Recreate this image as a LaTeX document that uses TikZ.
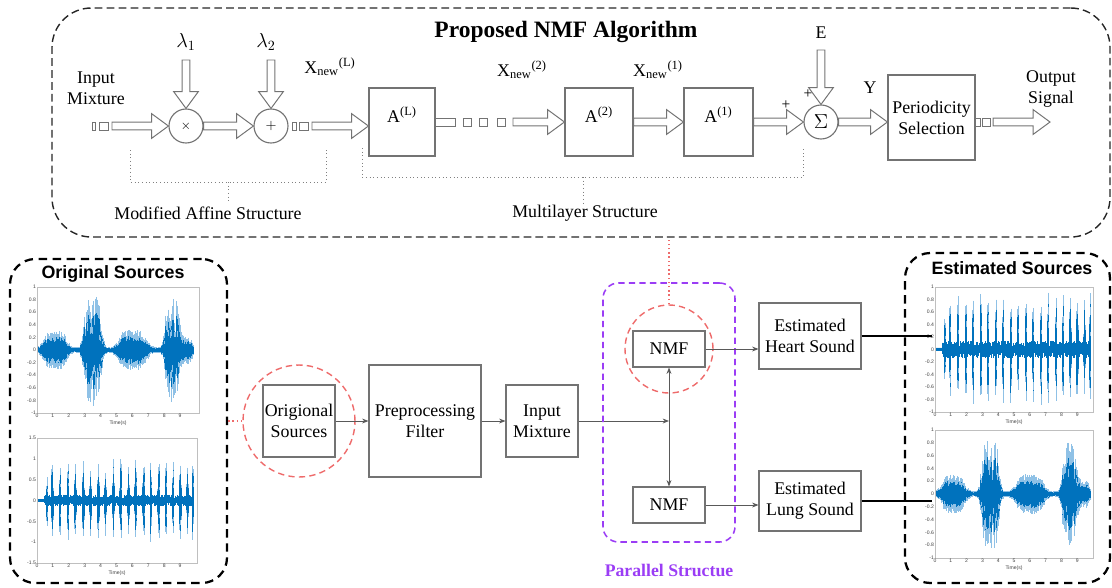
\documentclass[tikz,border=0pt]{standalone}
\usepackage{fontspec}
\setmainfont{Liberation Serif}
\setsansfont{Liberation Sans}
\usetikzlibrary{arrows.meta,calc}

\def\pxu{0.025cm}
\def\shaftw{2.8pt}
\def\headw{8.8pt}
\def\headl{12pt}

\definecolor{wavedark}{HTML}{0072BD}
\definecolor{wavelight}{HTML}{8FC1E6}
\definecolor{ringred}{HTML}{EE6B6B}
\definecolor{parpurple}{HTML}{9B3DF5}

\newcommand{\dfont}{\fontsize{12.7}{15}\selectfont}

\tikzset{
  blk/.style={draw=black!55, line width=0.8pt, inner sep=0pt, align=center, font=\dfont},
  raised/.style={text height=9.5pt, text depth=9.5pt},
  op/.style={circle, draw=black!55, line width=0.8pt, inner sep=0pt, minimum size=34*\pxu},
  txt/.style={align=center, font=\dfont, inner sep=1pt},
  plus/.style={font=\fontsize{11}{11}\selectfont, inner sep=0pt},
  hollowarr/.style={draw=black!55, line width=0.7pt, fill=white, line join=miter},
  bracket/.style={draw=black!50, line width=0.6pt, dotted},
  topframe/.style={draw=black!85, line width=1pt, dash pattern=on 5.5pt off 3pt, rounded corners=28pt, inner sep=0pt},
  srcframe/.style={draw=black, line width=1.6pt, dash pattern=on 6pt off 4pt, rounded corners=18pt, inner sep=0pt},
  parframe/.style={draw=parpurple, line width=1.1pt, dash pattern=on 4.5pt off 3pt, rounded corners=11pt, inner sep=0pt},
  ring/.style={circle, draw=ringred, line width=1pt, dash pattern=on 4.5pt off 3pt, inner sep=0pt},
  reddot/.style={draw=ringred, line width=1pt, dotted},
  flow/.style={draw=black!65, line width=0.6pt, -{Stealth[length=4.5pt,width=3.5pt]}},
  feed/.style={draw=black, line width=1.4pt},
  axisbox/.style={draw=black!25, line width=0.4pt},
  tick/.style={font=\fontsize{3.6}{4}\selectfont\sffamily, inner sep=0.6pt, text=black!75},
  head/.style={font=\fontsize{12.7}{15}\selectfont\sffamily\bfseries},
  title/.style={font=\fontsize{16.7}{20}\selectfont\bfseries},
  partitle/.style={font=\fontsize{12.6}{15}\selectfont\bfseries, text=parpurple},
  wavelt/.style={draw=wavelight, line width=0.5pt},
  wavedk/.style={draw=wavedark, line width=0.5pt}
}

% hollow arrow, horizontal, to the right
\newcommand{\harrow}[2]{%
  \draw[hollowarr] let \p1=(#1), \p2=(#2) in
    (\x1,\y1+\shaftw) -- (\x2-\headl,\y1+\shaftw) -- (\x2-\headl,\y1+\headw) -- (\x2,\y1)
    -- (\x2-\headl,\y1-\headw) -- (\x2-\headl,\y1-\shaftw) -- (\x1,\y1-\shaftw) -- cycle;}
% hollow arrow, vertical, downwards
\newcommand{\varrow}[2]{%
  \draw[hollowarr] let \p1=(#1), \p2=(#2) in
    (\x1-\shaftw,\y1) -- (\x1-\shaftw,\y2+\headl) -- (\x1-\headw,\y2+\headl) -- (\x1,\y2)
    -- (\x1+\headw,\y2+\headl) -- (\x1+\shaftw,\y2+\headl) -- (\x1+\shaftw,\y1) -- cycle;}

% lung recording: x origin, px per second, centre y, px per unit
\newcommand{\lungwave}[4]{%
  \foreach \t in {0.05,0.08,...,9.85}{%
    \pgfmathsetmacro\wvbase{0.04+0.21*exp(-((min(abs(\t-1.15)/0.8+0.002,3))^4))+0.22*exp(-((min(abs(\t-6)/0.95+0.002,3))^4))+0.14*exp(-((min(abs(\t-9.35)/0.45+0.002,3))^4))}%
    \pgfmathsetmacro\wvburst{0.85*exp(-((min(abs(\t-3.5)/0.6+0.002,3))^4))+0.8*exp(-((min(abs(\t-8.5)/0.5+0.002,3))^4))}%
    \pgfmathsetmacro\wvup{\wvbase*(0.75+0.5*rnd)+\wvburst*(0.3+0.7*rnd)}%
    \pgfmathsetmacro\wvdn{\wvbase*(0.75+0.5*rnd)+\wvburst*(0.3+0.7*rnd)}%
    \draw[wavelt] ({#1+\t*#2},{#3-\wvup*#4}) -- ({#1+\t*#2},{#3+\wvdn*#4});
    \draw[wavedk] ({#1+\t*#2},{#3-0.7*\wvup*#4}) -- ({#1+\t*#2},{#3+0.7*\wvdn*#4});
  }}

% heart recording: x origin, px per second, centre y, px per unit, peak
\newcommand{\heartwave}[5]{%
  \foreach \t in {0.05,0.08,...,9.85}{%
    \pgfmathsetmacro\wvup{ifthenelse(\t<0.45,0.03,0.05+0.09*rnd)}%
    \pgfmathsetmacro\wvdn{ifthenelse(\t<0.45,0.03,0.05+0.09*rnd)}%
    \draw[wavedk] ({#1+\t*#2},{#3-\wvup*#4}) -- ({#1+\t*#2},{#3+\wvdn*#4});
  }
  \foreach \s [count=\i] in {0.62,0.95,1.45,1.95,2.4,2.9,3.35,3.85,4.3,4.8,5.25,5.75,6.2,6.7,7.15,7.65,8.1,8.55,9.0,9.45,9.8}{%
    \pgfmathsetmacro\wvpeak{#5*ifthenelse(\i<3,0.45+0.25*\i,1)}%
    \foreach \d/\f in {-0.05/0.45,-0.025/0.8,0/1,0.025/0.9,0.05/0.5}{%
      \pgfmathsetmacro\wvup{\f*\wvpeak*(0.6+0.4*rnd)}%
      \pgfmathsetmacro\wvdn{\f*\wvpeak*(0.6+0.4*rnd)}%
      \draw[wavelt] ({#1+(\s+\d)*#2},{#3-\wvup*#4}) -- ({#1+(\s+\d)*#2},{#3+\wvdn*#4});
      \draw[wavedk] ({#1+(\s+\d)*#2},{#3-0.8*\wvup*#4}) -- ({#1+(\s+\d)*#2},{#3+0.8*\wvdn*#4});
    }%
  }}

% axes box: left, top, right, bottom, px per second
\newcommand{\plotframe}[5]{%
  \draw[axisbox] (#1,#2) rectangle (#3,#4);
  \foreach \k in {0,...,9} \node[tick, anchor=north] at ({#1+\k*#5},#4) {\k};
  \node[tick, anchor=north] at ({(#1+#3)/2},{#4+7}) {Time(s)};}

\begin{document}
\begin{tikzpicture}[x=\pxu, y=-\pxu]
\useasboundingbox (0,0) rectangle (1112,587);
\pgfmathsetseed{3}

% --- Proposed NMF algorithm ---
\node[topframe, minimum width=1058*\pxu, minimum height=229*\pxu] (algo) at (581,122.5) {};
\node[title] (ttl) at (566,32) {Proposed NMF Algorithm};

\node[txt] (inlbl) at (96,88) {Input\\Mixture};
\node[op] (mul) at (186,126) {\fontsize{9}{9}\selectfont$\times$};
\node[op] (add) at (271,126) {\fontsize{10}{10}\selectfont$+$};
\node[txt] (lam1) at (186,42) {\fontsize{14}{14}\selectfont$\lambda_1$};
\node[txt] (lam2) at (266,42) {\fontsize{14}{14}\selectfont$\lambda_2$};
\coordinate (lam1a) at (186,60);
\coordinate (lam2a) at (271,60);
\varrow{lam1a}{mul.north}
\varrow{lam2a}{add.north}

\foreach \a/\b in {92/95,99/108} \draw[hollowarr] (\a,122) rectangle (\b,130);
\coordinate (inA) at (112,126);
\harrow{inA}{mul.west}
\harrow{mul.east}{add.west}
\foreach \a/\b in {292/296,299/308} \draw[hollowarr] (\a,122) rectangle (\b,130);
\coordinate (xlA) at (312,126);

\node[blk, raised, minimum width=66*\pxu, minimum height=68*\pxu] (AL) at (402,122) {A\textsuperscript{(L)}};
\node[blk, raised, minimum width=68*\pxu, minimum height=68*\pxu] (A2) at (599,122) {A\textsuperscript{(2)}};
\node[blk, raised, minimum width=69*\pxu, minimum height=68*\pxu] (A1) at (718.5,122) {A\textsuperscript{(1)}};
\harrow{xlA}{AL.west}
\node[txt] (xnL) at (330,67) {X\textsubscript{new}\textsuperscript{(L)}};
\node[txt] (xn2) at (522,70) {X\textsubscript{new}\textsuperscript{(2)}};
\node[txt] (xn1) at (658,70) {X\textsubscript{new}\textsuperscript{(1)}};

\foreach \a/\b in {435/455,463/471,479/487,497/505} \draw[hollowarr] (\a,118) rectangle (\b,126);
\coordinate (x2A) at (513,122);
\harrow{x2A}{A2.west}
\harrow{A2.east}{A1.west}

\node[op] (sum) at (821,122) {\fontsize{14}{14}\selectfont$\Sigma$};
\harrow{A1.east}{sum.west}
\node[txt] (elbl) at (821,33) {E};
\coordinate (eA) at (821,50);
\varrow{eA}{sum.north}
\node[plus] (pl1) at (786,105) {+};
\node[plus] (pl2) at (808,94) {+};

\node[blk, minimum width=87*\pxu, minimum height=85*\pxu] (per) at (931.5,117.5) {Periodicity\\Selection};
\harrow{sum.east}{per.west}
\node[txt] (ylbl) at (870,88) {Y};
\foreach \a/\b in {975/980,982/990} \draw[hollowarr] (\a,118) rectangle (\b,126);
\coordinate (outA) at (993,122);
\coordinate (outB) at (1050,122);
\harrow{outA}{outB}
\node[txt] (outlbl) at (1051,89) {Output\\Signal};

% brackets
\draw[bracket] (130,150) -- (130,182) -- (326,182) -- (326,150);
\draw[bracket] (228,182) -- (228,203);
\node[txt] (maff) at (208,213) {Modified Affine Structure};
\draw[bracket] (362,148) -- (362,177) -- (803,177) -- (803,147);
\draw[bracket] (583,177) -- (583,203);
\node[txt] (mlay) at (585,213) {Multilayer Structure};

% --- Original sources ---
\node[srcframe, minimum width=217*\pxu, minimum height=324*\pxu] (orig) at (118.5,421) {};
\node[head] (origttl) at (113,274) {Original Sources};
\begin{scope}
  \clip (37,287) rectangle (199,413);
  \lungwave{37}{15.9}{350}{63}
\end{scope}
\plotframe{37}{287}{199}{413}{15.9}
\foreach \v in {1,0.8,0.6,0.4,0.2,0,-0.2,-0.4,-0.6,-0.8,-1}
  \node[tick, anchor=east] at (37,{350-\v*63}) {\v};
\begin{scope}
  \clip (37,438) rectangle (197,563);
  \heartwave{37}{15.9}{500.5}{41.7}{1}
\end{scope}
\plotframe{37}{438}{197}{563}{15.9}
\foreach \v in {1.5,1,0.5,0,-0.5,-1,-1.5}
  \node[tick, anchor=east] at (37,{500.5-\v*41.7}) {\v};

% --- processing chain ---
\node[blk, minimum width=72*\pxu, minimum height=72*\pxu] (osrc) at (299,421) {Origional\\Sources};
\node[ring, minimum size=112*\pxu] (ring1) at (299,421) {};
\draw[reddot] (orig.east) -- (ring1.west);
\node[blk, minimum width=112*\pxu, minimum height=112*\pxu] (prep) at (425,421) {Preprocessing\\Filter};
\node[blk, minimum width=72*\pxu, minimum height=72*\pxu] (inmix) at (542,421) {Input\\Mixture};
\draw[flow] (osrc) -- (prep);
\draw[flow] (prep) -- (inmix);
\coordinate (jn) at (669,421);
\draw[flow] (inmix) -- (jn);

\node[parframe, minimum width=132*\pxu, minimum height=259*\pxu] (par) at (669,412.5) {};
\node[partitle] (parttl) at (669,570) {Parallel Structue};
\node[blk, minimum width=72*\pxu, minimum height=36*\pxu] (nmf1) at (669,349) {NMF};
\node[blk, minimum width=72*\pxu, minimum height=36*\pxu] (nmf2) at (669,505) {NMF};
\draw[flow, {Stealth[length=4.5pt,width=3.5pt]}-{Stealth[length=4.5pt,width=3.5pt]}] (nmf1) -- (nmf2);
\node[ring, minimum size=88*\pxu] (ring2) at (669,349) {};
\draw[reddot] (ring2.north) -- (ring2.north |- algo.south);

\node[blk, minimum width=102*\pxu, minimum height=66*\pxu] (heart) at (810,336) {Estimated\\Heart Sound};
\node[blk, minimum width=102*\pxu, minimum height=60*\pxu] (lung) at (810,501) {Estimated\\Lung Sound};
\draw[flow] (nmf1.east) -- (nmf1.east -| heart.west);
\draw[flow] (nmf2.east) -- (nmf2.east -| lung.west);

% --- Estimated sources ---
\node[srcframe, minimum width=205*\pxu, minimum height=330*\pxu] (est) at (1007.5,418) {};
\node[head] (estttl) at (1012,268) {Estimated Sources};
\begin{scope}
  \clip (935,287) rectangle (1093,412);
  \heartwave{935}{15.8}{349.5}{62.5}{0.92}
\end{scope}
\plotframe{935}{287}{1093}{412}{15.8}
\foreach \v in {1,0.8,0.6,0.4,0.2,0,-0.2,-0.4,-0.6,-0.8,-1}
  \node[tick, anchor=east] at (935,{349.5-\v*62.5}) {\v};
\begin{scope}
  \clip (935,430) rectangle (1093,558);
  \lungwave{935}{15.8}{494}{64}
\end{scope}
\plotframe{935}{430}{1093}{558}{15.8}
\foreach \v in {1,0.8,0.6,0.4,0.2,0,-0.2,-0.4,-0.6,-0.8,-1}
  \node[tick, anchor=east] at (935,{494-\v*64}) {\v};

\coordinate (hend) at (932,336);
\coordinate (lend) at (932,501);
\draw[feed] (heart.east) -- (hend);
\draw[feed] (lung.east) -- (lend);
\end{tikzpicture}
\end{document}
